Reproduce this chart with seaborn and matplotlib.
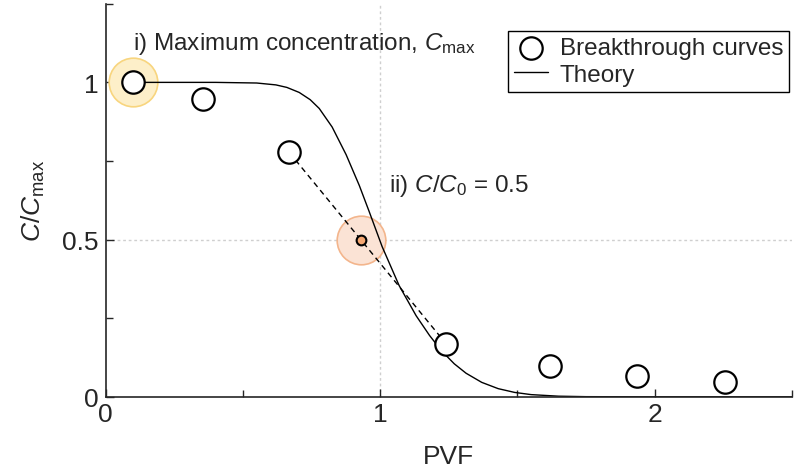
import matplotlib
matplotlib.use("Agg")
import matplotlib.pyplot as plt
from matplotlib.ticker import MultipleLocator
import seaborn as sns
import pandas as pd

sns.set_style("ticks")
plt.rcParams["font.family"] = ["Liberation Sans", "DejaVu Sans"]
plt.rcParams["mathtext.fontset"] = "custom"
plt.rcParams["mathtext.rm"] = "Liberation Sans"
plt.rcParams["mathtext.it"] = "Liberation Sans:italic"

# Measured breakthrough points (PVF vs normalised concentration)
pvf = [0.10, 0.356, 0.669, 1.24, 1.618, 1.935, 2.255]
conc = [1.0, 0.946, 0.777, 0.169, 0.099, 0.067, 0.048]

# Theoretical breakthrough curve
theory_pvf = [0.10, 0.40, 0.55, 0.62, 0.66, 0.705, 0.745, 0.778, 0.825, 0.876,
              0.924, 0.96, 1.007, 1.069, 1.131, 1.18, 1.225, 1.27, 1.313, 1.37,
              1.43, 1.49, 1.55, 1.65, 1.75, 2.0, 2.5]
theory_conc = [1.0, 1.0, 0.998, 0.992, 0.984, 0.968, 0.945, 0.917, 0.858, 0.770,
               0.672, 0.589, 0.478, 0.354, 0.258, 0.195, 0.145, 0.105, 0.075, 0.046,
               0.026, 0.014, 0.007, 0.002, 0.0005, 0.0, 0.0]

# Highlighted points
cmax_pvf, cmax_conc = 0.10, 1.0
half_pvf, half_conc = 0.93, 0.5

points = pd.DataFrame({"PVF": pvf, "C": conc})
theory = pd.DataFrame({"PVF": theory_pvf, "C": theory_conc})

fig = plt.figure(figsize=(7.95, 4.77), dpi=100)
ax = fig.add_axes([0.133, 0.166, 0.863, 0.824])

# reference guides at PVF = 1 and C/Cmax = 0.5
ax.axvline(1.0, color="#cfcfcf", lw=1.0, ls=(0, (2, 2)), zorder=0)
ax.axhline(0.5, color="#cfcfcf", lw=1.0, ls=(0, (2, 2)), zorder=0)

# highlight halos
ax.plot([cmax_pvf], [cmax_conc], "o", ms=35, mfc="#fdefc9", mec="#f8d57e",
        mew=1.2, zorder=1)
ax.plot([half_pvf], [half_conc], "o", ms=35, mfc="#fbe3d5", mec="#f3b58c",
        mew=1.2, zorder=1)

sns.lineplot(data=theory, x="PVF", y="C", color="black", lw=1.0,
             ax=ax, label="Theory", zorder=2)

# linear connection across C/C0 = 0.5
ax.plot([pvf[2], pvf[3]], [conc[2], conc[3]], color="black", lw=1.0,
        ls=(0, (4, 3)), zorder=2)

sns.scatterplot(data=points, x="PVF", y="C", s=260, facecolor="white",
                edgecolor="black", linewidth=1.6, ax=ax,
                label="Breakthrough curves", zorder=3)

ax.plot([half_pvf], [half_conc], "o", ms=7, mfc="#f4a671", mec="black",
        mew=1.5, zorder=4)

ax.text(0.098, 1.124, r"i) Maximum concentration, $C_{\mathrm{max}}$",
        fontsize=17.5, va="center", ha="left")
ax.text(1.033, 0.675, r"ii) $C/C_0$ = 0.5", fontsize=17.5, va="center",
        ha="left")

ax.set_xlim(0, 2.5)
ax.set_ylim(0, 1.25)
ax.set_xticks([0, 1, 2])
ax.set_xticklabels(["0", "1", "2"])
ax.set_yticks([0, 0.5, 1])
ax.set_yticklabels(["0", "0.5", "1"])
ax.xaxis.set_minor_locator(MultipleLocator(0.5))
ax.yaxis.set_minor_locator(MultipleLocator(0.25))
ax.tick_params(which="both", direction="in", width=1.0, labelsize=19)
ax.tick_params(which="major", length=6)
ax.tick_params(axis="x", which="major", pad=4)
ax.tick_params(axis="y", which="major", pad=5)
ax.tick_params(which="minor", length=5)

ax.set_xlabel("PVF", fontsize=19, labelpad=13)
ax.set_ylabel(r"$C/C_{\mathrm{max}}$", fontsize=19, labelpad=11)

sns.despine(ax=ax)
for s in ("left", "bottom"):
    ax.spines[s].set_linewidth(1.2)

handles, labels = ax.get_legend_handles_labels()
order = [labels.index("Breakthrough curves"), labels.index("Theory")]
leg = ax.legend([handles[i] for i in order], [labels[i] for i in order],
                loc="upper right", bbox_to_anchor=(0.9965, 0.931),
                fontsize=17.5, frameon=True, fancybox=False,
                edgecolor="black", framealpha=1, borderpad=0.25,
                labelspacing=0.2, handlelength=1.4, handletextpad=0.5,
                borderaxespad=0)
leg.get_frame().set_linewidth(1.0)

fig.savefig("out.png", dpi=100)
